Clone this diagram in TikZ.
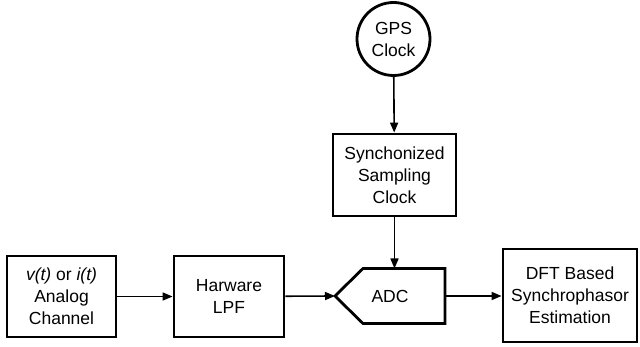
\documentclass[tikz,border=0pt]{standalone}
\usepackage{fontspec}
\setmainfont{Liberation Sans}
\usepackage{tikz}
\usetikzlibrary{arrows.meta, positioning}
\tikzset{
  block/.style={rectangle, draw=black, fill=white, line width=2.8pt,
    align=center, font=\fontsize{17.5}{22}\selectfont, inner sep=2pt},
  clocknode/.style={circle, draw=black, fill=white, line width=2.8pt,
    minimum size=73pt, align=center, font=\fontsize{17.5}{22}\selectfont, inner sep=0pt},
  adcnode/.style={rectangle, align=center, font=\fontsize{17.5}{22}\selectfont,
    inner sep=0pt, outer sep=0pt},
  outline/.style={draw=black, line width=2.8pt, line join=miter},
  arrow/.style={-{Triangle[length=10pt, width=8pt]}, line width=1.6pt, color=black}
}

\begin{document}
\begin{tikzpicture}[x=1pt, y=-1pt]
  \useasboundingbox (0,0) rectangle (640,347);

  % Timing path
  \node[clocknode] (gps) at (393.5,39) {GPS\\Clock};
  \node[block, minimum width=123pt, minimum height=82pt] (sync) at (394.5,175)
    {Synchonized\\Sampling\\Clock};

  % Signal path
  \node[block, minimum width=109pt, minimum height=81pt] (chan) at (61.5,296.5)
    {\textit{v(t)} or \textit{i(t)}\\Analog\\Channel};
  \node[block, minimum width=110pt, minimum height=81pt] (lpf) at (229,296.5)
    {Harware\\LPF};
  \node[adcnode, minimum width=110pt, minimum height=55pt] (adc) at (390,296)
    {ADC};
  \draw[outline] (adc.west) -- ([xshift=28pt]adc.north west) -- (adc.north east)
    -- (adc.south east) -- ([xshift=28pt]adc.south west) -- cycle;
  \node[block, minimum width=134pt, minimum height=93pt] (dft) at (570,295.5)
    {DFT Based\\Synchrophasor\\Estimation};

  % Connections
  \draw[arrow] (gps) -- (sync);
  \draw[arrow] (sync.south) -- (sync.south |- adc.north);
  \draw[arrow] (chan) -- (lpf);
  \draw[arrow] (lpf) -- (adc.west);
  \draw[arrow] (adc.east) -- (adc.east -| dft.west);
\end{tikzpicture}
\end{document}
